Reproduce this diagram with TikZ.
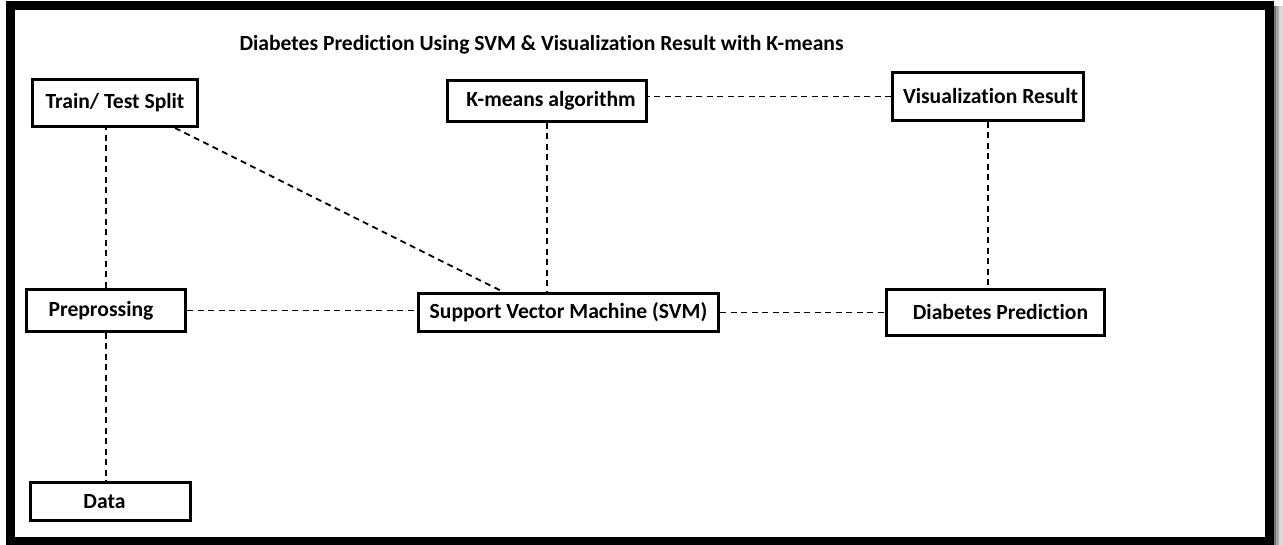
\documentclass[tikz,border=0pt]{standalone}
\usepackage{fontspec}
\setmainfont{Carlito}[Ligatures=CommonOff]
\begin{document}
\begin{tikzpicture}[x=1pt,y=-1pt,
  box/.style={draw=black,line width=3pt,rectangle,inner sep=0pt,fill=white,font=\fontsize{21.6}{24}\selectfont\bfseries},
  conn/.style={draw=black,line width=1.8pt,dash pattern=on 6pt off 4.5pt}]
\useasboundingbox (0,0) rectangle (1283,545);
\fill[white] (0,0) rectangle (1283,545);
% shadow
\fill[black!55] (1273,6) rectangle (1276,545);
\fill[black!35] (1276,6) rectangle (1279,545);
\fill[black!15] (1279,6) rectangle (1283,545);
% frame
\draw[line width=9pt] (10.5,6) rectangle (1269,541.5);
\node[font=\fontsize{21.6}{24}\selectfont\bfseries,anchor=center] (title) at (541.5,45) {Diabetes Prediction Using SVM \& Visualization Result with K-means};
\node[box,minimum width=165pt,minimum height=47pt] (train) at (115,103) {\raisebox{2pt}{Train/ Test Split}};
\node[box,minimum width=199pt,minimum height=41pt] (kmeans) at (547,101) {\hspace*{8pt}\raisebox{3pt}{K-means algorithm}};
\node[box,minimum width=191pt,minimum height=48pt] (vis) at (988,96.5) {\hspace*{5pt}Visualization Result};
\node[box,minimum width=159pt,minimum height=42pt] (prep) at (106,310.5) {\raisebox{2pt}{Preprossing}\hspace*{10pt}};
\node[box,minimum width=300pt,minimum height=38pt] (svm) at (568.5,312.5) {Support Vector Machine (SVM)};
\node[box,minimum width=218pt,minimum height=46pt] (dp) at (995.5,312.5) {\hspace*{10pt}Diabetes Prediction};
\node[box,minimum width=160pt,minimum height=38pt] (data) at (110.5,501.5) {Data\hspace*{12pt}};
\draw[conn] (prep.north) -- (prep.north |- train.south);
\draw[conn] (prep.south) -- (prep.south |- data.north);
\draw[conn] ([xshift=-24pt]train.south east) -- ([xshift=-65pt]svm.north);
\draw[conn] (kmeans.south) -- (kmeans.south |- svm.north);
\draw[conn] (vis.west) -- (vis.west -| kmeans.east);
\draw[conn] (vis.south) -- (vis.south |- dp.north);
\draw[conn] (prep.east) -- (prep.east -| svm.west);
\draw[conn] (svm.east) -- (dp.west);
\end{tikzpicture}
\end{document}
